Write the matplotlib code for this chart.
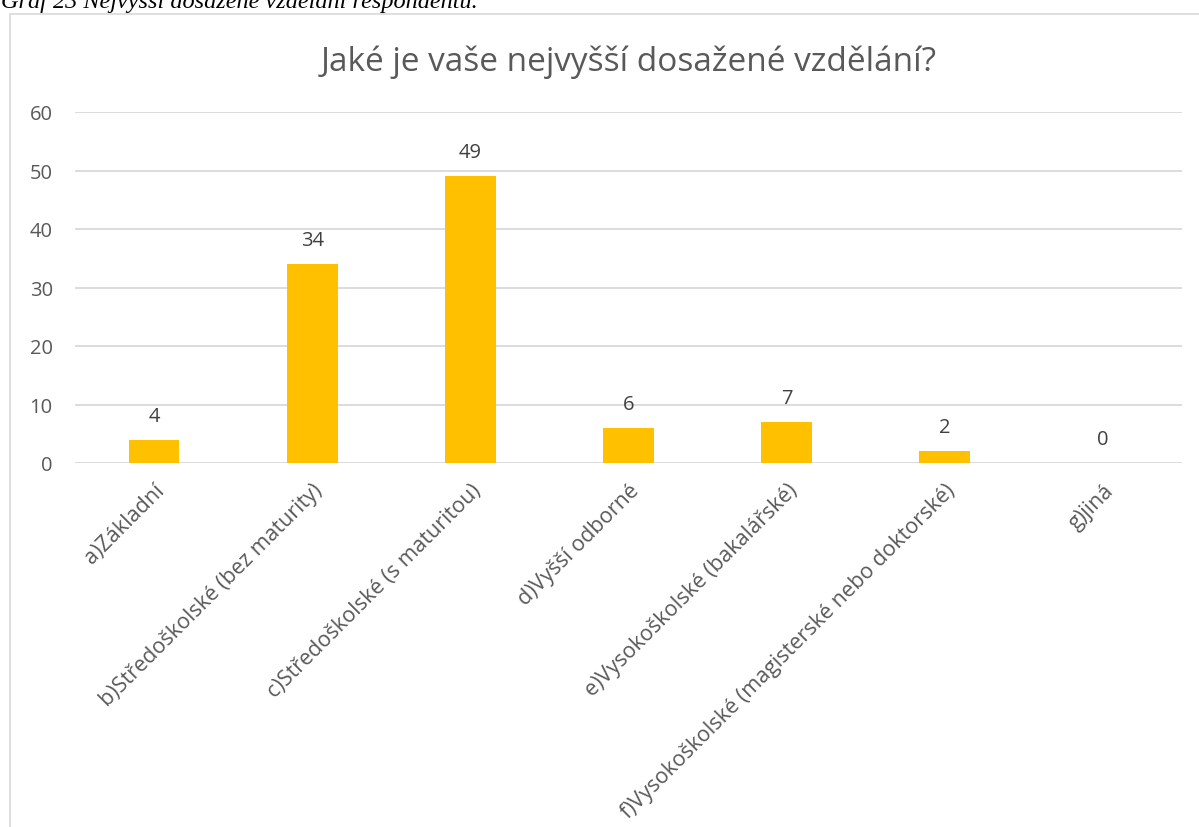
import matplotlib
matplotlib.use("Agg")
import matplotlib.pyplot as plt
from matplotlib.patches import Rectangle

categories = ["a)Základní", "b)Středoškolské (bez maturity)", "c)Středoškolské (s maturitou)",
              "d)Vyšší odborné", "e)Vysokoškolské (bakalářské)",
              "f)Vysokoškolské (magisterské nebo doktorské)", "g)jiná"]
values = [4, 34, 49, 6, 7, 2, 0]
yticks = [0, 10, 20, 30, 40, 50, 60]
title = "Jaké je vaše nejvyšší dosažené vzdělání?"
caption = "Graf 23 Nejvyšší dosažené vzdělání respondentů."

W, H = 1199, 828
fig = plt.figure(figsize=(W / 100, H / 100), dpi=100)
fig.patch.set_facecolor("white")

# chart frame (extends beyond the image on right and bottom)
fig.patches.append(Rectangle((10.5 / W, -0.1), 1.2, (H - 14.5) / H + 0.1,
                             transform=fig.transFigure, fill=False,
                             edgecolor="#D9D9D9", linewidth=1.2, zorder=0))

# caption partially cut at the top
fig.text(1 / W, 1 - 8 / H, caption, family="Liberation Serif", style="italic",
         fontsize=17.5, color="black", ha="left", va="baseline")

ax = fig.add_axes([75 / W, (H - 464) / H, (1182 - 75) / W, (464 - 113) / H])
x = list(range(len(categories)))
ax.bar(x, values, width=0.32, color="#FFC000", zorder=2)
ax.set_xlim(-0.5, len(categories) - 0.5)
ax.set_ylim(0, 60)
ax.set_yticks(yticks)
ax.set_yticklabels([str(t) for t in yticks], family="Open Sans", fontsize=14.5, color="#595959")
ax.tick_params(axis="y", length=0, pad=16)
ax.tick_params(axis="x", length=0, pad=12)
ax.set_xticks(x)
ax.set_xticklabels(categories, rotation=45, ha="right", va="top", rotation_mode="anchor",
                   family="Open Sans", fontsize=15.5, color="#595959")
ax.grid(axis="y", color="#D9D9D9", linewidth=1.3, zorder=0)
for s in ax.spines.values():
    s.set_visible(False)

for xi, v in zip(x, values):
    ax.annotate(str(v), (xi, v), xytext=(0, 10), textcoords="offset points",
                ha="center", va="bottom", family="Open Sans", fontsize=14.5, color="#404040")

fig.text((75 + 1182) / 2 / W, 1 - 62 / H, title, family="Open Sans", fontsize=24,
         color="#595959", ha="center", va="center")

fig.savefig("out.png", dpi=100)
